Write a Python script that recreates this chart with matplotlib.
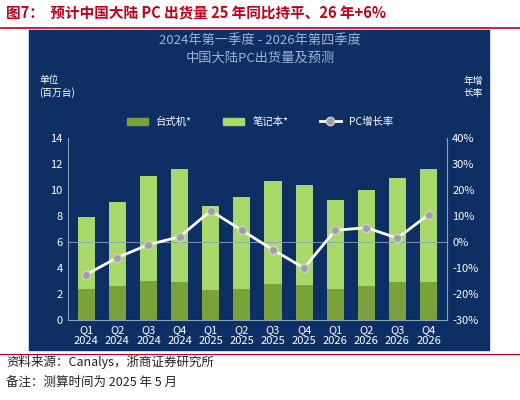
import matplotlib
matplotlib.use("Agg")
import matplotlib.pyplot as plt
import numpy as np
from matplotlib.patches import Rectangle
from matplotlib.lines import Line2D

plt.rcParams['font.family'] = ['Noto Sans CJK SC', 'DejaVu Sans']

quarters = ["Q1\n2024","Q2\n2024","Q3\n2024","Q4\n2024","Q1\n2025","Q2\n2025","Q3\n2025","Q4\n2025","Q1\n2026","Q2\n2026","Q3\n2026","Q4\n2026"]
desktop = [2.4, 2.6, 3.0, 2.9, 2.3, 2.4, 2.8, 2.7, 2.4, 2.6, 2.9, 2.9]
total = [7.9, 9.1, 11.1, 11.6, 8.8, 9.5, 10.7, 10.4, 9.2, 10.0, 10.9, 11.6]
notebook = [t - d for t, d in zip(total, desktop)]
growth = [-12.5, -6, -1, 2, 12, 4.5, -3, -10, 4.5, 5.5, 1.5, 10.5]

fig = plt.figure(figsize=(5.2, 4.0), dpi=100)
fig.patch.set_facecolor('white')
fig.text(0.012, 0.965, "图7：  预计中国大陆 PC 出货量 25 年同比持平、26 年+6%", color='#c0001a', fontsize=10.5, va='center', weight='bold')
fig.add_artist(Line2D([0.0, 1.0], [0.93, 0.93], color='#c0001a', lw=1.2))
bg = Rectangle((0.055, 0.125), 0.885, 0.8, transform=fig.transFigure, color='#0d2f63', zorder=-10)
fig.add_artist(bg)
fig.text(0.5, 0.89, "2024年第一季度 - 2026年第四季度", color='#9fb3d6', fontsize=9.5, ha='center')
fig.text(0.5, 0.845, "中国大陆PC出货量及预测", color='#9fb3d6', fontsize=9.5, ha='center')
fig.text(0.075, 0.76, "单位\n(百万台)", color='white', fontsize=7, linespacing=1.2)
fig.text(0.91, 0.76, "年增\n长率", color='white', fontsize=7, ha='center', linespacing=1.2)
fig.text(0.012, 0.085, "资料来源：Canalys，浙商证券研究所", fontsize=9, color='#222222')
fig.text(0.012, 0.035, "备注：测算时间为 2025 年 5 月", fontsize=9, color='#222222')
fig.add_artist(Line2D([0.0, 1.0], [0.115, 0.115], color='#c0001a', lw=0.8))

ax = fig.add_axes([0.13, 0.2, 0.73, 0.455], zorder=1)
ax.set_facecolor('none')
x = np.arange(len(quarters))
ax.bar(x, desktop, width=0.55, color='#7aa13a')
ax.bar(x, notebook, bottom=desktop, width=0.55, color='#a8d86a')
ax.set_ylim(0, 14)
ax.set_yticks(range(0, 15, 2))
ax.set_xlim(-0.6, 11.6)
ax.set_xticks(x)
ax.set_xticklabels(quarters, color='white', fontsize=8)
ax.tick_params(colors='white', labelsize=8, length=0)
for s in ['top', 'right']:
    ax.spines[s].set_visible(False)
ax.spines['left'].set_color('#8aa0c0')
ax.spines['bottom'].set_color('#8aa0c0')

ax2 = ax.twinx()
ax2.plot(x, growth, color='white', lw=2, marker='o', ms=6, mfc='#a0a0a0', mec='#d0d0d0', zorder=5)
ax2.set_ylim(-30, 40)
ax2.set_yticks(range(-30, 41, 10))
ax2.set_yticklabels([f"{v}%" for v in range(-30, 41, 10)])
ax2.axhline(0, color='#8aa0c0', lw=0.6)
ax2.tick_params(colors='white', labelsize=8, length=0)
for s in ['top', 'left', 'bottom']:
    ax2.spines[s].set_visible(False)
ax2.spines['right'].set_color('#8aa0c0')

handles = [Rectangle((0, 0), 1, 1, color='#7aa13a'), Rectangle((0, 0), 1, 1, color='#a8d86a'),
           Line2D([], [], color='white', lw=2, marker='o', mfc='#a0a0a0', mec='#d0d0d0')]
fig.legend(handles, ["台式机*", "笔记本*", "PC增长率"], loc='center', bbox_to_anchor=(0.5, 0.695), ncol=3,
           frameon=False, labelcolor='white', fontsize=7.5, columnspacing=3, handlelength=2)

fig.savefig("out.png", dpi=100)
